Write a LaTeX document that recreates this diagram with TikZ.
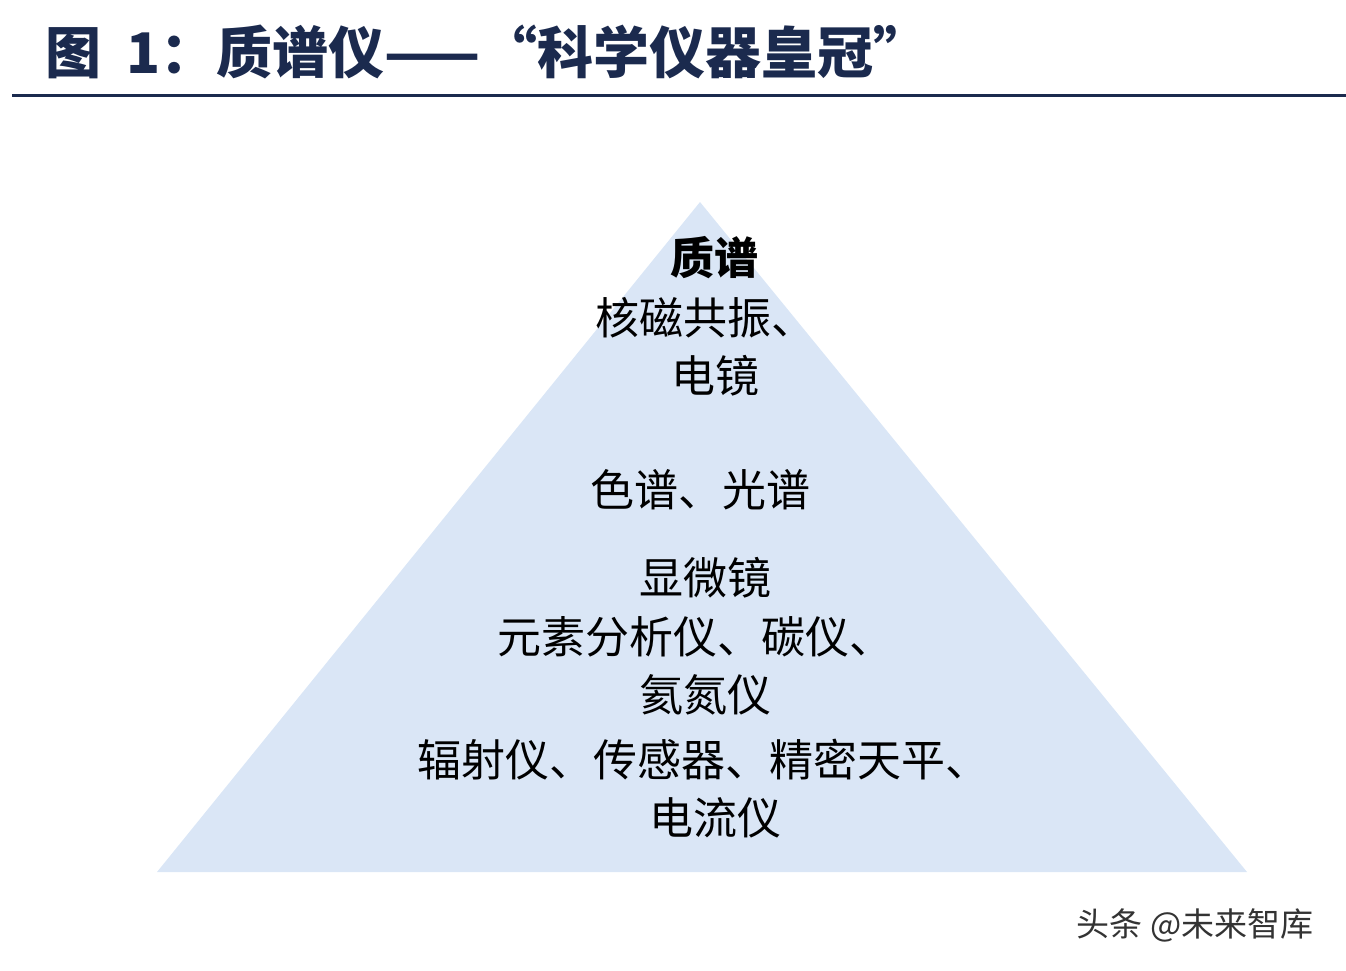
\documentclass[tikz,border=0pt]{standalone}
\usepackage{fontspec}
\newfontfamily\cjk{Noto Sans CJK SC}
\definecolor{navy}{HTML}{1B2A4E}
\definecolor{tri}{HTML}{DAE6F6}
\begin{document}
\begin{tikzpicture}[x=1pt,y=-1pt,
  lab/.style={font=\cjk\fontsize{44}{44}\selectfont, text=black, inner sep=0pt}]
\useasboundingbox (0,0) rectangle (1346,970);
\node[anchor=west, inner sep=0pt, text=navy, font=\cjk\bfseries\fontsize{56}{56}\selectfont] (title) at (45,52) {图\ \ 1：质谱仪——“科学仪器皇冠”};
\draw[navy, line width=3pt] (12,95) coordinate (l1) -- (1346,95) coordinate (l2);
\fill[tri] (700,202) coordinate (apex) -- (157,872) coordinate (bl) -- (1247,872) coordinate (br) -- cycle;
\node[lab, font=\cjk\bfseries\fontsize{44}{44}\selectfont] (t1) at (714,258) {质谱};
\node[lab] (t2) at (705,318) {核磁共振、};
\node[lab] (t3) at (715,376) {电镜};
\node[lab] (t4) at (700,490) {色谱、光谱};
\node[lab] (t5) at (705,578) {显微镜};
\node[lab] (t6) at (695,637) {元素分析仪、碳仪、};
\node[lab] (t7) at (705,695) {氦氮仪};
\node[lab] (t8) at (703,760) {辐射仪、传感器、精密天平、};
\node[lab] (t9) at (715,818) {电流仪};
\node[inner sep=0pt, text=black!80, font=\cjk\fontsize{33}{33}\selectfont] (wm) at (1195,925) {头条 @未来智库};
\end{tikzpicture}
\end{document}
